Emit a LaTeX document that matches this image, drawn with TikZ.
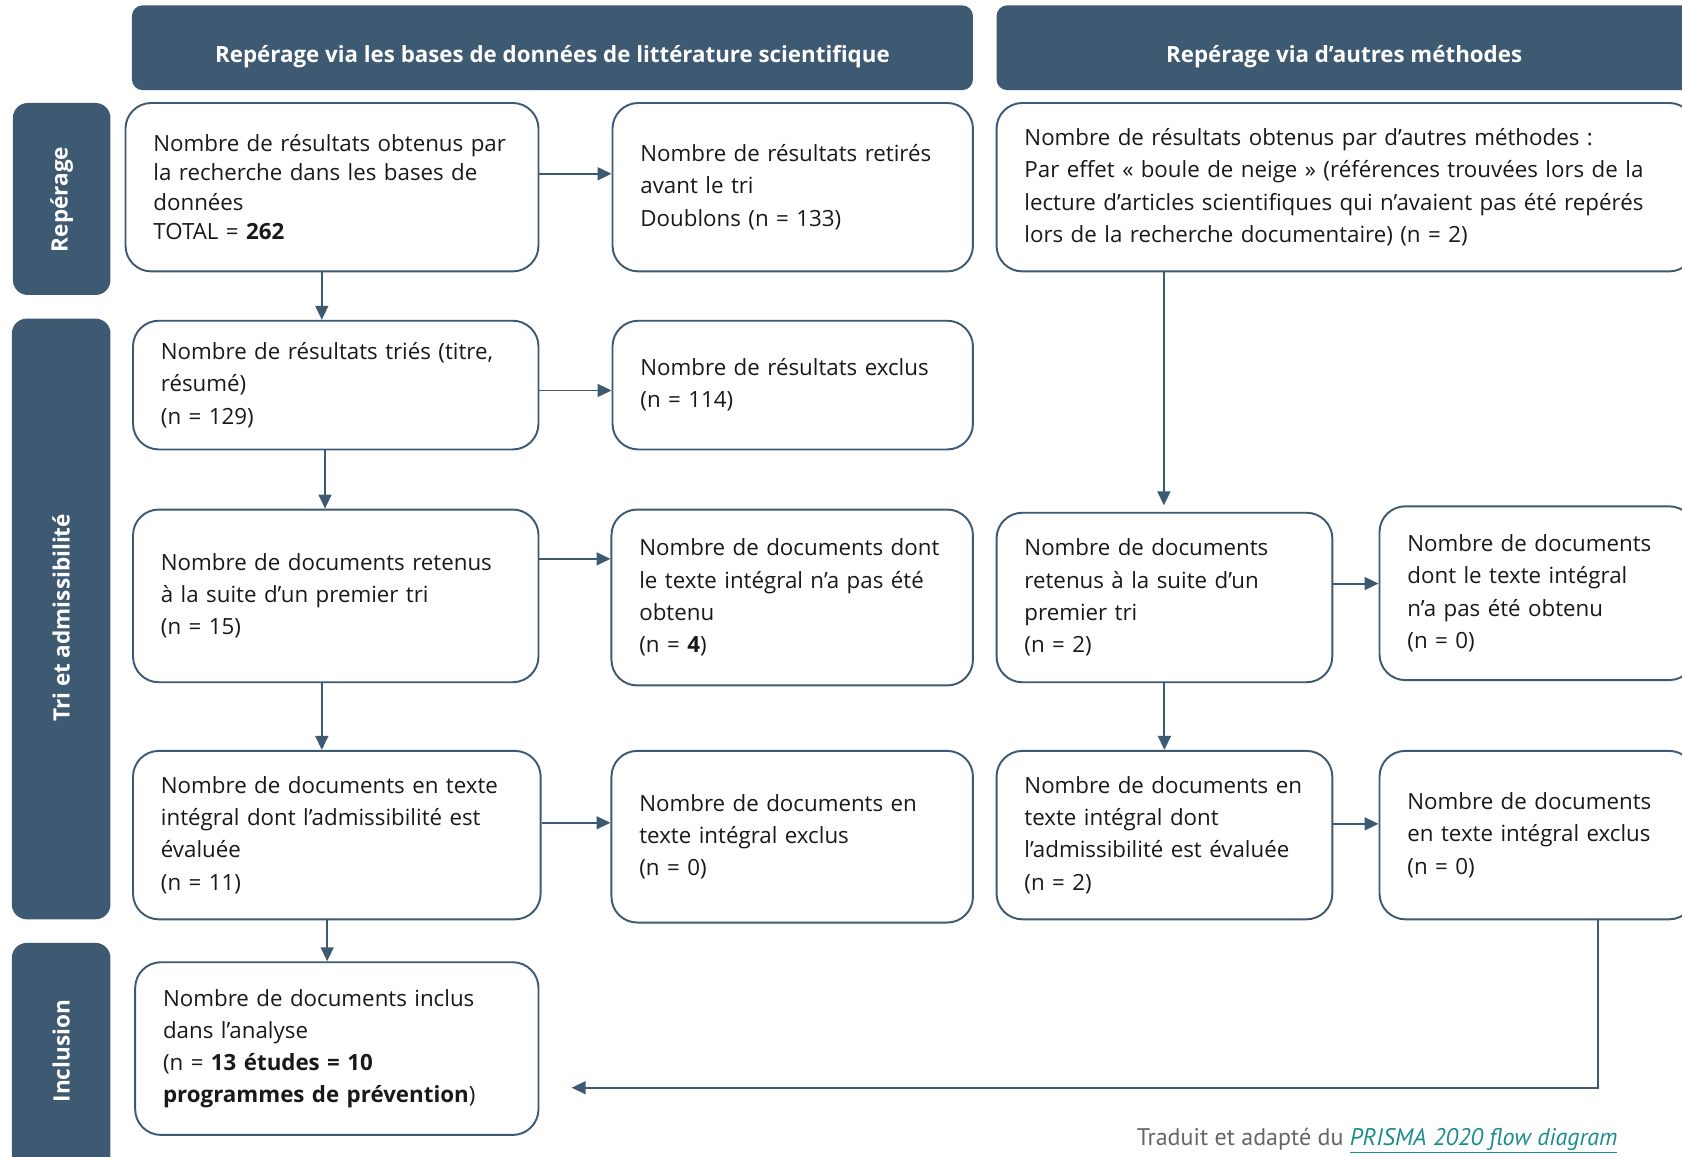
\documentclass[tikz,border=0pt]{standalone}
\usepackage{fontspec}
\setmainfont{Open Sans}
\newfontfamily\ptsans{PT Sans}
\usetikzlibrary{arrows.meta}
\definecolor{slate}{HTML}{3E5A73}
\definecolor{linkteal}{HTML}{1B8C8C}
\definecolor{footgray}{HTML}{666666}
\newcommand\myboxend{\par\vskip-7pt}
\begin{document}
\begin{tikzpicture}[x=1pt,y=-1pt,
 box/.style={draw=slate, line width=1.8pt, rounded corners=24pt, fill=white, align=left, inner xsep=26pt, inner ysep=0pt, font=\fontsize{20.8}{30}\selectfont, text=black!90, execute at end node=\myboxend},
 hdr/.style={fill=slate, rounded corners=10pt, inner sep=0pt},
 hdrtxt/.style={text=white, font=\bfseries\fontsize{20.8}{24}\selectfont},
 side/.style={fill=slate, rounded corners=14pt, inner sep=0pt},
 sidetxt/.style={text=white, rotate=90, font=\bfseries\fontsize{21}{24}\selectfont},
 arr/.style={draw=slate, line width=1.8pt, -{Triangle[length=13pt,width=12pt]}}]
\useasboundingbox (0,0) rectangle (1568,1078);
\clip (0,0) rectangle (1568,1078);

% headers
\node[hdr, minimum width=784pt, minimum height=79pt] (H1) at (515,44.5) {};
\node[hdrtxt] (H1t) at (515,53) {Repérage via les bases de données de littérature scientifique};
\node[hdr, minimum width=651pt, minimum height=79pt] (H2) at (1254.5,44.5) {};
\node[hdrtxt] (H2t) at (1253,53) {Repérage via d’autres méthodes};

% side labels
\node[side, minimum width=91pt, minimum height=179pt] (S1) at (57.5,185.5) {};
\node[sidetxt] (S1t) at (57.5,186) {Repérage};
\node[side, minimum width=92pt, minimum height=560pt] (S2) at (57,577) {};
\node[sidetxt] (S2t) at (57,576) {Tri et admissibilité};
\node[side, minimum width=92pt, minimum height=211pt] (S3) at (57,984.5) {};
\node[sidetxt] (S3t) at (57,980) {Inclusion};

% row 1
\node[box, minimum width=385pt, minimum height=157pt, text width=333pt, font=\fontsize{20.8}{27.5}\selectfont] (A1) at (309.5,174.5)
 {Nombre de résultats obtenus par\\la recherche dans les bases de\\données\\TOTAL = \textbf{262}};
\node[box, minimum width=336pt, minimum height=157pt, text width=284pt] (B1) at (739,174.5)
 {Nombre de résultats retirés\\avant le tri\\Doublons (n = 133)};
\node[box, minimum width=651pt, minimum height=157pt, text width=599pt] (C1) at (1254.5,174.5)
 {Nombre de résultats obtenus par d’autres méthodes :\\Par effet « boule de neige » (références trouvées lors de la\\lecture d’articles scientifiques qui n’avaient pas été repérés\\lors de la recherche documentaire) (n = 2)};

% row 2
\node[box, minimum width=378pt, minimum height=120pt, text width=326pt] (A2) at (313,359)
 {Nombre de résultats triés (titre,\\résumé)\\(n = 129)};
\node[box, minimum width=336pt, minimum height=120pt, text width=284pt] (B2) at (739,359)
 {Nombre de résultats exclus\\(n = 114)};

% row 3
\node[box, minimum width=378pt, minimum height=161pt, text width=326pt] (A3) at (313,555.5)
 {Nombre de documents retenus\\à la suite d’un premier tri\\(n = 15)};
\node[box, minimum width=337pt, minimum height=164pt, text width=285pt] (B3) at (738.5,557)
 {Nombre de documents dont\\le texte intégral n’a pas été\\obtenu\\(n = \textbf{4})};
\node[box, minimum width=313pt, minimum height=158pt, text width=261pt] (C3) at (1085.5,557)
 {Nombre de documents\\retenus à la suite d’un\\premier tri\\(n = 2)};
\node[box, minimum width=294pt, minimum height=162pt, text width=242pt] (D3) at (1433,553)
 {Nombre de documents\\dont le texte intégral\\n’a pas été obtenu\\(n = 0)};

% row 4
\node[box, minimum width=380pt, minimum height=157pt, text width=328pt] (A4) at (314,778.5)
 {Nombre de documents en texte\\intégral dont l’admissibilité est\\évaluée\\(n = 11)};
\node[box, minimum width=337pt, minimum height=160pt, text width=285pt] (B4) at (738.5,780)
 {Nombre de documents en\\texte intégral exclus\\(n = 0)};
\node[box, minimum width=313pt, minimum height=157pt, text width=261pt] (C4) at (1085.5,778.5)
 {Nombre de documents en\\texte intégral dont\\l’admissibilité est évaluée\\(n = 2)};
\node[box, minimum width=294pt, minimum height=157pt, text width=242pt] (D4) at (1433,778.5)
 {Nombre de documents\\en texte intégral exclus\\(n = 0)};

% row 5
\node[box, minimum width=376pt, minimum height=161pt, text width=324pt] (A5) at (314,977.5)
 {Nombre de documents inclus\\dans l’analyse\\(n = \textbf{13 études = 10}\\\textbf{programmes de prévention})};

% arrows
\draw[arr] ([yshift=12.5pt]A1.east) -- ([yshift=12.5pt]B1.west);
\draw[arr] ([xshift=-9.5pt]A1.south) -- ([xshift=-9.5pt]A1.south |- A2.north);
\draw[arr] ([yshift=-5pt]A2.east) -- ([yshift=-5pt]B2.west);
\draw[arr] ([xshift=-10pt]A2.south) -- ([xshift=-10pt]A2.south |- A3.north);
\draw[arr] ([yshift=34.5pt]A3.east) -- ([yshift=34.5pt]A3.east -| B3.west);
\draw[arr] ([xshift=-13pt]A3.south) -- ([xshift=-13pt]A3.south |- A4.north);
\draw[arr] ([yshift=11.5pt]A4.east) -- ([yshift=11.5pt]A4.east -| B4.west);
\draw[arr] ([xshift=-9pt]A4.south) -- ([xshift=-9pt]A4.south |- A5.north);
\draw[arr, shorten >=6pt] ([xshift=-169.5pt]C1.south) -- ([xshift=-169.5pt]C1.south |- C3.north);
\draw[arr] ([yshift=13pt]C3.east) -- ([yshift=13pt]C3.east -| D3.west);
\draw[arr] (C3.south) -- (C3.south |- C4.north);
\draw[arr] ([yshift=10.5pt]C4.east) -- ([yshift=10.5pt]C4.east -| D4.west);
\draw[arr] ([xshift=57pt]D4.south) |- ([shift={(30pt,-36.5pt)}]A5.east);

% footer
\node[anchor=base east, inner sep=0pt, font=\ptsans\fontsize{22.4}{26}\selectfont] (foot) at (1508,1068)
 {\textcolor{footgray}{Traduit et adapté du} \textcolor{linkteal}{\itshape\underline{PRISMA 2020 flow diagram}}};
\end{tikzpicture}
\end{document}
